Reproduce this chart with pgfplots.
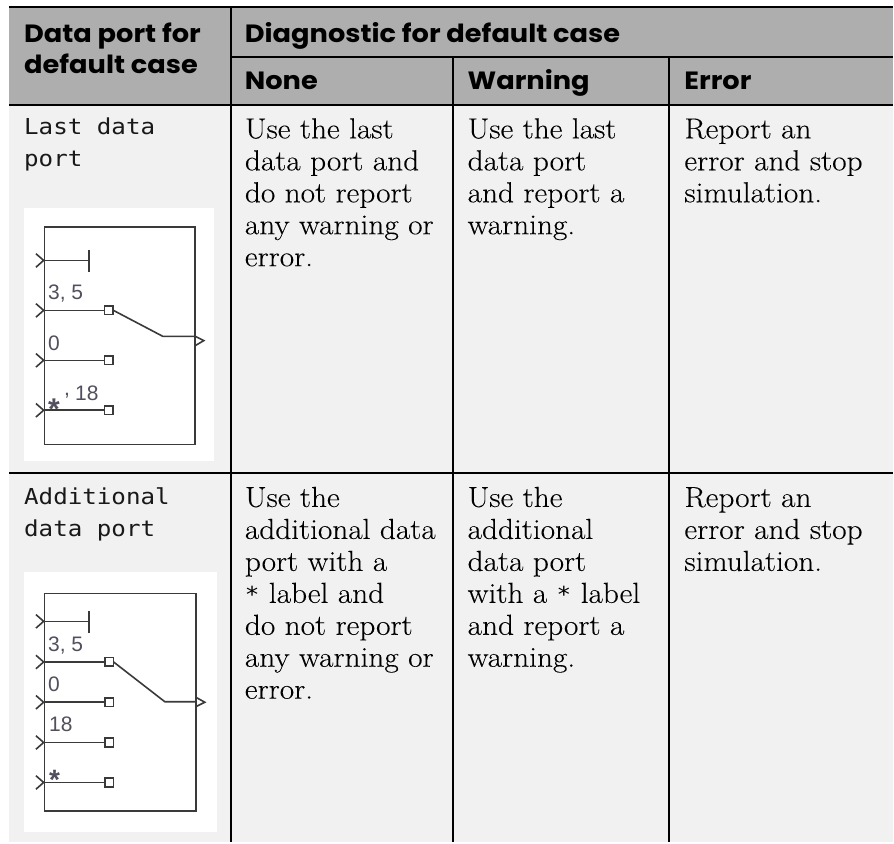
\documentclass[border=0pt]{standalone}
\usepackage{pgfplots}
\pgfplotsset{compat=1.18}
\usepackage{fontspec}
\setmainfont{Latin Modern Roman}[FakeStretch=1.08,FakeBold=0.12]
\newfontfamily\hd{Poppins}[UprightFont=* Bold,FakeStretch=1.09]
\newfontfamily\mono{DejaVu Sans Mono}[FakeStretch=1.1]
\newfontfamily\ar{Liberation Sans}
\definecolor{hdr}{HTML}{AEAEAE}
\definecolor{cell}{HTML}{F1F1F1}
\definecolor{blk}{HTML}{3A3A3A}
\definecolor{lab}{HTML}{50505E}
\newcommand{\T}[3]{\node[anchor=base west,inner sep=0pt,text=black] at (axis cs:#1,#2) {\fontsize{29pt}{30pt}\selectfont #3};}
\newcommand{\HH}[3]{\node[anchor=base west,inner sep=0pt] at (axis cs:#1,#2) {\hd\fontsize{25pt}{26pt}\selectfont #3};}
\newcommand{\M}[3]{\node[anchor=base west,inner sep=0pt,text=black!90] at (axis cs:#1,#2) {\mono\fontsize{22pt}{24pt}\selectfont #3};}
\newcommand{\AL}[3]{\node[anchor=base west,inner sep=0pt,text=lab] at (axis cs:#1,#2) {\ar\fontsize{21pt}{22pt}\selectfont #3};}
\newcommand{\AS}[4]{\node[anchor=base west,inner sep=0pt,text=lab] at (axis cs:#1,#2) {\ar\fontsize{#3pt}{#3pt}\selectfont #4};}
\newcommand{\ms}{{\mono\fontsize{22pt}{24pt}\selectfont *}}
\begin{document}
\begin{tikzpicture}
\begin{axis}[
  scale only axis, width=894pt, height=843pt,
  xmin=0, xmax=894, ymin=0, ymax=843, y dir=reverse,
  hide axis, clip=false,
  every axis plot/.append style={line join=miter}
]
% backgrounds
\addplot[fill=white,draw=none] coordinates {(0,0)(894,0)(894,843)(0,843)} --cycle;
\addplot[fill=hdr,draw=none] coordinates {(9.5,7)(894,7)(894,105)(9.5,105)} --cycle;
\addplot[fill=cell,draw=none] coordinates {(9.5,105)(894,105)(894,843)(9.5,843)} --cycle;
\addplot[fill=white,draw=none] coordinates {(24,208)(214,208)(214,462)(24,462)} --cycle;
\addplot[fill=white,draw=none] coordinates {(24,573)(217,573)(217,833)(24,833)} --cycle;
% grid
\addplot[black,line width=2pt] coordinates {(9.5,7)(894,7)};
\addplot[black,line width=2pt] coordinates {(231,57)(894,57)};
\addplot[black,line width=2pt] coordinates {(9.5,105)(894,105)};
\addplot[black,line width=2pt] coordinates {(9.5,474)(894,474)};
\addplot[black,line width=2pt] coordinates {(231,7)(231,843)};
\addplot[black,line width=2pt] coordinates {(454,57)(454,843)};
\addplot[black,line width=2pt] coordinates {(670,57)(670,843)};
% block 1
\addplot[blk,line width=1.6pt] coordinates {(44.5,227)(195.5,227)(195.5,445)(44.5,445)} --cycle;
\addplot[blk,line width=1.6pt] coordinates {(36,254)(43.7,260.7)(36,267.5)};
\addplot[blk,line width=1.6pt] coordinates {(36,304)(43.7,310.7)(36,317.5)};
\addplot[blk,line width=1.6pt] coordinates {(36,354)(43.7,360.7)(36,367.5)};
\addplot[blk,line width=1.6pt] coordinates {(36,404)(43.7,410.7)(36,417.5)};
\addplot[blk,line width=1.6pt] coordinates {(44.5,260.7)(89,260.7)};
\addplot[blk,line width=1.6pt] coordinates {(89,250)(89,272)};
\addplot[blk,line width=1.6pt] coordinates {(44.5,310.7)(104.5,310.7)};
\addplot[blk,line width=1.6pt] coordinates {(44.5,360.7)(104.5,360.7)};
\addplot[blk,line width=1.6pt] coordinates {(44.5,410.7)(104.5,410.7)};
\addplot[blk,line width=1.6pt] coordinates {(113.5,310.7)(163,336.7)(195.5,336.7)};
\addplot[blk,line width=1.6pt] coordinates {(195.5,336.7)(204,341)(195.5,346)};
\addplot[only marks,mark=square*,mark size=4.3pt,mark options={fill=white,draw=blk,line width=1.6pt}] coordinates {(109,310.7)(109,360.7)(109,410.7)};
% block 2
\addplot[blk,line width=1.6pt] coordinates {(44.7,594)(196,594)(196,811.7)(44.7,811.7)} --cycle;
\addplot[blk,line width=1.6pt] coordinates {(36,615.3)(43.7,622)(36,628.8)};
\addplot[blk,line width=1.6pt] coordinates {(36,656)(43.7,662.7)(36,669.5)};
\addplot[blk,line width=1.6pt] coordinates {(36,696.3)(43.7,703)(36,709.8)};
\addplot[blk,line width=1.6pt] coordinates {(36,736.6)(43.7,743.3)(36,750.1)};
\addplot[blk,line width=1.6pt] coordinates {(36,776.6)(43.7,783.3)(36,790.1)};
\addplot[blk,line width=1.6pt] coordinates {(44.7,622)(89,622)};
\addplot[blk,line width=1.6pt] coordinates {(89,611.7)(89,633.3)};
\addplot[blk,line width=1.6pt] coordinates {(44.7,662.7)(105,662.7)};
\addplot[blk,line width=1.6pt] coordinates {(44.7,703)(105,703)};
\addplot[blk,line width=1.6pt] coordinates {(44.7,743.3)(105,743.3)};
\addplot[blk,line width=1.6pt] coordinates {(44.7,783.3)(105,783.3)};
\addplot[blk,line width=1.6pt] coordinates {(113.7,662.7)(165,702.5)(196,702.5)};
\addplot[blk,line width=1.6pt] coordinates {(196,698)(205,703)(196,707.5)};
\addplot[only marks,mark=square*,mark size=4.3pt,mark options={fill=white,draw=blk,line width=1.6pt}] coordinates {(109.3,662.7)(109.3,703)(109.3,743.3)(109.3,783.3)};
% block labels
\AL{48}{300}{3, 5}
\AL{48}{350.5}{0}
\AS{48}{420}{30}{\textbf{*}}
\AL{64}{396}{,}
\AL{75}{400.5}{18}
\AL{48}{652}{3, 5}
\AL{48}{692}{0}
\AL{49}{732}{18}
\AS{49}{790}{28}{\textbf{*}}
% header text
\HH{24}{42.3}{Data port for}
\HH{24}{74}{default case}
\HH{245}{42.3}{Diagnostic for default case}
\HH{245}{90}{None}
\HH{468}{90}{Warning}
\HH{685}{90}{Error}
% row 1
\M{24}{135}{Last data}
\M{24}{167}{port}
\T{245}{138.5}{Use the last}
\T{245}{170.5}{data port and}
\T{245}{202.5}{do not report}
\T{245}{234.5}{any warning or}
\T{245}{266.5}{error.}
\T{468}{138.5}{Use the last}
\T{468}{170.5}{data port}
\T{468}{202.5}{and report a}
\T{468}{234.5}{warning.}
\T{685}{138.5}{Report an}
\T{685}{170.5}{error and stop}
\T{685}{202.5}{simulation.}
% row 2
\M{24}{505}{Additional}
\M{24}{537.5}{data port}
\T{245}{507.5}{Use the}
\T{245}{539.5}{additional data}
\T{245}{571.5}{port with a}
\T{245}{603.5}{\ms{} label and}
\T{245}{635.5}{do not report}
\T{245}{667.5}{any warning or}
\T{245}{699.5}{error.}
\T{468}{507.5}{Use the}
\T{468}{539.5}{additional}
\T{468}{571.5}{data port}
\T{468}{603.5}{with a \ms{} label}
\T{468}{635.5}{and report a}
\T{468}{667.5}{warning.}
\T{685}{507.5}{Report an}
\T{685}{539.5}{error and stop}
\T{685}{571.5}{simulation.}
\end{axis}
\end{tikzpicture}
\end{document}
